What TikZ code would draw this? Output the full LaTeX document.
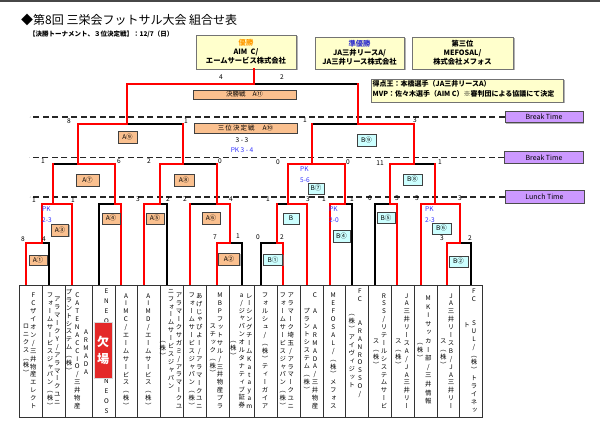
\documentclass[tikz,border=0pt]{standalone}
\usepackage{fontspec}
\setmainfont{Noto Sans CJK JP}
\newfontfamily\vfont[RawFeature=+vert]{Noto Sans CJK JP}
\usetikzlibrary{shadows}
\definecolor{rd}{RGB}{255,0,0}
\definecolor{pkb}{RGB}{51,51,255}
\definecolor{aor}{RGB}{250,192,143}
\definecolor{bcy}{RGB}{204,255,255}
\definecolor{ylw}{RGB}{255,255,204}
\definecolor{brk}{RGB}{204,153,255}
\definecolor{gold}{RGB}{255,153,0}
\definecolor{runb}{RGB}{51,51,204}
\definecolor{stampred}{RGB}{228,40,40}
\ExplSyntaxOn
\NewDocumentCommand\vcol{O{7.9pt}m}{
  \vbox{\baselineskip=#1\lineskiplimit=-\maxdimen\lineskip=0pt
    \tl_map_inline:nn {#2}{\hbox_to_wd:nn{8pt}{\hss##1\hss}}}}
\ExplSyntaxOff
\tikzset{
  rl/.style={draw=rd, line width=1.9pt, line cap=rect},
  kl/.style={draw=black, line width=1.1pt, line cap=rect},
  dl/.style={draw=black!85, line width=1.5pt, dash pattern=on 6pt off 3.5pt},
  cell/.style={draw=black!80, line width=0.8pt},
  abox/.style={draw=black!75, line width=0.7pt, fill=aor, inner sep=0pt,
    font=\fontsize{6.5}{7}\selectfont,
    drop shadow={shadow xshift=1pt,shadow yshift=-1pt,fill=gray,opacity=0.6}},
  bbox/.style={abox, fill=bcy},
  ybox/.style={draw=black!55, line width=0.8pt, fill=ylw, inner sep=0pt, align=center,
    font=\bfseries\fontsize{7.3}{9}\selectfont,
    drop shadow={shadow xshift=1.5pt,shadow yshift=-1.5pt,fill=gray,opacity=0.6}},
  brkbox/.style={draw=black!70, line width=0.8pt, fill=brk, inner sep=0pt,
    font=\fontsize{7}{8}\selectfont,
    drop shadow={shadow xshift=1.2pt,shadow yshift=-1.2pt,fill=gray,opacity=0.6}},
  sc/.style={inner sep=0pt, font=\fontsize{6.6}{7}\selectfont},
  pk/.style={inner sep=0pt, text=pkb, anchor=west, font=\fontsize{6.6}{7}\selectfont},
  vt/.style={inner sep=0pt, font=\vfont\fontsize{6.4}{7.9}\selectfont},
}
\begin{document}
\begin{tikzpicture}[x=1pt,y=-1pt]
\useasboundingbox (0,0) rectangle (600,435);
\fill[black!72] (0,0) rectangle (600,1.8);

% title
\node[anchor=west, inner sep=0pt, font=\fontsize{12}{14}\selectfont] (title) at (21,20) {◆第8回 三栄会フットサル大会 組合せ表};
\node[anchor=west, inner sep=0pt, font=\bfseries\fontsize{6.5}{7}\selectfont] (sub) at (29,34.5) {【決勝トーナメント、３位決定戦】：12/7（日）};

% result boxes
\node[ybox, minimum width=100pt, minimum height=34pt] (champ) at (246,52) {\textcolor{gold}{優勝}\\AIM\ \ C/\\エームサービス株式会社};
\node[ybox, minimum width=89pt, minimum height=32pt] (runner) at (359.5,53) {\textcolor{runb}{準優勝}\\JA三井リースA/\\JA三井リース株式会社};
\node[ybox, minimum width=101pt, minimum height=32pt] (third) at (462.5,53) {第三位\\MEFOSAL/\\株式会社メフォス};
\node[ybox, minimum width=192pt, minimum height=23pt] (mvpbox) at (467,90.5) {};
\node[anchor=west, inner sep=0pt, align=left, font=\bfseries\fontsize{7}{10}\selectfont] (mvp) at (372.5,89) {得点王：本橋選手（JA三井リースA）\\MVP：佐々木選手（AIM C）※審判団による協議にて決定};

% break time
\node[brkbox, minimum width=78pt, minimum height=11.5pt] (brk1) at (544,117) {Break Time};
\node[brkbox, minimum width=78.5pt, minimum height=11.5pt] (brk2) at (544,157.5) {Break Time};
\node[brkbox, minimum width=79pt, minimum height=12.5pt] (lunch) at (544.5,197) {Lunch Time};
\draw[dl] (brk1.west) -- ++(-475,0);
\draw[dl] (brk2.west) -- ++(-475,0);
\draw[dl] (lunch.west) -- ++(-475,0);

% coordinates
\coordinate (t1) at (26,285);  \coordinate (t2) at (49,285);
\coordinate (t3) at (72,285);  \coordinate (t4) at (99,285);
\coordinate (t5) at (121,285); \coordinate (t6) at (144,285);
\coordinate (t7) at (167,285); \coordinate (t8) at (190,285);
\coordinate (t9) at (217,285); \coordinate (t10) at (242,285);
\coordinate (t11) at (261,285); \coordinate (t12) at (283,285);
\coordinate (t13) at (307,285); \coordinate (t14) at (330,285);
\coordinate (t15) at (352,285); \coordinate (t16) at (375,285);
\coordinate (t17) at (397,285); \coordinate (t18) at (421,285);
\coordinate (t19) at (447,285); \coordinate (t20) at (471,285);
\coordinate (a1) at (42,243);  \coordinate (a2) at (230,243);
\coordinate (a3) at (53,204);  \coordinate (a4) at (115,204);
\coordinate (a5) at (160,204); \coordinate (a6) at (217,204);
\coordinate (a7) at (78,164);  \coordinate (a8) at (183,164);
\coordinate (a9) at (127,124);
\coordinate (b1) at (277,243); \coordinate (b2) at (460,243);
\coordinate (b3) at (288,204); \coordinate (b4) at (345,204);
\coordinate (b5) at (390,204); \coordinate (b6) at (435,204);
\coordinate (b7) at (312,164); \coordinate (b8) at (414,164);
\coordinate (b9) at (358,124);
\coordinate (fin) at (254,84);

% black legs
\draw[kl] (t2) |- (a1);
\draw[kl] (t10) |- (a2);
\draw[kl] (t4) |- (a4);
\draw[kl] (t7) |- (a5);
\draw[kl] (t8 |- a6) -- (a6);
\draw[kl] (a3 |- a7) -- (a7);
\draw[kl] (a6 |- a8) -- (a8);
\draw[kl] (a8 |- a9) -- (a9);
\draw[kl] (t11) |- (b1);
\draw[kl] (t20) |- (b2);
\draw[kl] (b1 |- b3) -- (b3);
\draw[kl] (t15) |- (b4);
\draw[kl] (t16) |- (b5);
\draw[kl] (b6 |- b8) -- (b8);
\draw[kl] (b7 |- b9) -- (b9);
\draw[kl] (b9 |- fin) -- (fin);

% red legs
\draw[rl] (t1) |- (a1);
\draw[rl] (t9) |- (a2);
\draw[rl] (a1) |- (a3);
\draw[rl] (t3) |- (a3);
\draw[rl] (t5) |- (a4);
\draw[rl] (t6) |- (a5);
\draw[rl] (t8) -- (t8 |- a6);
\draw[rl] (a2) |- (a6);
\draw[rl] (a3) -- (a3 |- a7);
\draw[rl] (a4) |- (a7);
\draw[rl] (a5) |- (a8);
\draw[rl] (a6) -- (a6 |- a8);
\draw[rl] (a7) |- (a9);
\draw[rl] (a8) -- (a8 |- a9);
\draw[rl] (a9) |- (fin);
\draw[rl] (t12) |- (b1);
\draw[rl] (t19) |- (b2);
\draw[rl] (b1) -- (b1 |- b3);
\draw[rl] (t13) |- (b3);
\draw[rl] (t14) |- (b4);
\draw[rl] (t17) |- (b5);
\draw[rl] (t18) |- (b6);
\draw[rl] (b2) |- (b6);
\draw[rl] (b3) |- (b7);
\draw[rl] (b4) |- (b7);
\draw[rl] (b5) |- (b8);
\draw[rl] (b6) -- (b6 |- b8);
\draw[rl] (b7) -- (b7 |- b9);
\draw[rl] (b8) |- (b9);
\draw[rl] (b9) -- (b9 |- fin);
\draw[rl] (fin) -- (fin |- champ.south);

% final and third place labels
\node[abox, minimum width=103pt, minimum height=9pt] (finlab) at (244.5,94.5) {決勝戦\hspace{7pt}A⑪};
\node[abox, minimum width=103pt, minimum height=10pt] (thirdlab) at (245.5,128) {三\,位\,決\,定\,戦\hspace{8pt}A⑩};
\node[sc] (th1) at (242,140) {3 - 3};
\node[sc, text=pkb] (th2) at (242,150) {PK 3 - 4};

% match boxes
\node[abox, minimum width=18pt, minimum height=10pt] (A1) at (38,260) {A①};
\node[abox, minimum width=21pt, minimum height=12pt] (A2) at (229,259.5) {A②};
\node[abox, minimum width=17pt, minimum height=12pt] (A3) at (60,230) {A③};
\node[abox, minimum width=18pt, minimum height=11pt] (A4) at (111,218.5) {A④};
\node[abox, minimum width=18pt, minimum height=11pt] (A5) at (155,218.5) {A⑤};
\node[abox, minimum width=18pt, minimum height=12pt] (A6) at (211,218) {A⑥};
\node[abox, minimum width=23pt, minimum height=12pt] (A7) at (87.5,180) {A⑦};
\node[abox, minimum width=20pt, minimum height=12pt] (A8) at (184,180) {A⑧};
\node[abox, minimum width=19pt, minimum height=12pt] (A9) at (127.5,137) {A⑨};
\node[bbox, minimum width=19pt, minimum height=11pt] (B1) at (273,260) {B①};
\node[bbox, minimum width=19pt, minimum height=11pt] (B2) at (458.5,261.5) {B②};
\node[bbox, minimum width=16pt, minimum height=11pt] (B3) at (291,218.5) {B};
\node[bbox, minimum width=17pt, minimum height=12pt] (B4) at (341.5,236) {B④};
\node[bbox, minimum width=18pt, minimum height=10.5pt] (B5) at (386,218) {B⑤};
\node[bbox, minimum width=19pt, minimum height=11pt] (B6) at (441.5,228.5) {B⑥};
\node[bbox, minimum width=16pt, minimum height=11pt] (B7) at (316,188.5) {B⑦};
\node[bbox, minimum width=19pt, minimum height=11pt] (B8) at (412.5,179.5) {B⑧};
\node[bbox, minimum width=19pt, minimum height=12pt] (B9) at (366.5,140) {B⑨};

% scores
\node[sc] (s1) at (221,77) {4};   \node[sc] (s2) at (282,77) {2};
\node[sc] (s3) at (69,121) {8};   \node[sc] (s4) at (186,121) {1};
\node[sc] (s5) at (305,120) {1};  \node[sc] (s6) at (415,120) {3};
\node[sc] (s7) at (43,161) {1};   \node[sc] (s8) at (119,161) {6};
\node[sc] (s9) at (149,161) {2};  \node[sc] (s10) at (220,161) {0};
\node[sc] (s11) at (278,162) {0}; \node[sc] (s12) at (348,162) {0};
\node[sc] (s13) at (380,163) {11}; \node[sc] (s14) at (440,162) {1};
\node[sc] (s15) at (34,200) {1};  \node[sc] (s16) at (73,200) {1};
\node[sc] (s17) at (138,199) {3}; \node[sc] (s18) at (168,199) {2};
\node[sc] (s19) at (185,199) {2}; \node[sc] (s20) at (231,199) {4};
\node[sc] (s21) at (268,199) {1}; \node[sc] (s22) at (308,199) {3};
\node[sc] (s23) at (324,199) {1}; \node[sc] (s24) at (352,199) {1};
\node[sc] (s25) at (370,198) {0}; \node[sc] (s26) at (397,198) {5};
\node[sc] (s27) at (417,198) {3}; \node[sc] (s28) at (460,198) {3};
\node[sc] (s29) at (23,239) {8};  \node[sc] (s30) at (44,239) {4};
\node[sc] (s31) at (215,237) {7}; \node[sc] (s32) at (238,236) {1};
\node[sc] (s33) at (258,237) {0}; \node[sc] (s34) at (282,237) {2};
\node[sc] (s35) at (442,238) {3}; \node[sc] (s36) at (470,238) {2};

% PK labels
\node[pk] (pk1) at (42,209) {PK};  \node[pk] (pk1b) at (42,220) {2-3};
\node[pk] (pk2) at (329,209) {PK}; \node[pk] (pk2b) at (329,220) {2-0};
\node[pk] (pk3) at (425,209) {PK}; \node[pk] (pk3b) at (425,220) {2-3};
\node[pk] (pk4) at (300,169) {PK}; \node[pk] (pk4b) at (300,180) {5-6};

% team cells
\draw[cell] (19,285) rectangle (482,417);
\foreach \x in {42,65,92,115,137,160,183,206,229,254,277,300,323,345,368,391,414,437,459}
  \draw[cell] (\x,285) -- (\x,417);

\node[vt] (c1a) at (33.3,351) {\vcol{FCザイオン/三井物産エレクト}};
\node[vt] (c1b) at (26,350) {\vcol{ロニクス（株）}};
\node[vt] (c2a) at (57.3,351) {\vcol{アラマークY/アラマークユニ}};
\node[vt] (c2b) at (50,351) {\vcol{フォームサービスジャパン（株）}};
\node[vt] (c3a) at (77.3,351) {\vcol{CATENACCIO/三井物産}};
\node[vt,anchor=north] (c3b) at (69,289) {\vcol{プラントシステム（株）}};
\node[vt] (c3c) at (86,352) {\vcol{ARMADA}};
\node[vt,anchor=north] (c4a) at (106.5,288.5) {\vcol[10pt]{ENEO}};
\node[vt,anchor=south] (c4b) at (106.5,414) {\vcol[10pt]{NEOS}};
\node[vt] (c5a) at (126,351) {\vcol{AIMC/エームサービス（株）}};
\node[vt] (c6a) at (148.3,351) {\vcol{AIMD/エームサービス（株）}};
\node[vt] (c7a) at (179,351) {\vcol{アラマークサガミ/アラマークユ}};
\node[vt,anchor=north] (c7b) at (171,289) {\vcol{ニフォームサービスジャパン}};
\node[vt] (c7c) at (162.7,350) {\vcol{（株）}};
\node[vt] (c8a) at (199.3,351) {\vcol{あげじゃぴよー/アラマークユニ}};
\node[vt] (c8b) at (191.7,351) {\vcol{フォームサービスジャパン（株）}};
\node[vt] (c9a) at (220,351) {\vcol{MBPフットサル/三井物産プラ}};
\node[vt] (c9b) at (212.7,350) {\vcol{スチック（株）}};
\node[vt] (c10a) at (249.3,351) {\vcol{レーシングチームKatayam}};
\node[vt] (c10b) at (241.7,351) {\vcol{a/ジャパンオルタナティブ証券}};
\node[vt] (c10c) at (233.3,350) {\vcol{（株）}};
\node[vt] (c11a) at (265,351) {\vcol{フォルシュ/（株）ティーガイア}};
\node[vt] (c12a) at (290.7,351) {\vcol{アラマーク埼玉/アラマークユニ}};
\node[vt] (c12b) at (282.7,351) {\vcol{フォームサービスジャパン（株）}};
\node[vt] (c13a) at (315,351) {\vcol{C~A~ARMADA/三井物産}};
\node[vt] (c13b) at (306.7,350) {\vcol{プラントシステム（株）}};
\node[vt] (c14a) at (333.3,351) {\vcol{MEFOSAL/（株）メフォス}};
\node[vt,anchor=north] (c15a) at (360,289) {\vcol{FC~~ARANROSSO/}};
\node[vt] (c15b) at (351.7,351) {\vcol{（株）アイヴィジット}};
\node[vt] (c16a) at (384,351) {\vcol{RSS/リテールシステムサービ}};
\node[vt] (c16b) at (376,353) {\vcol{ス（株）}};
\node[vt] (c17a) at (406.7,351) {\vcol{JA三井リースA/JA三井リー}};
\node[vt] (c17b) at (398.3,353) {\vcol{ス（株）}};
\node[vt] (c18a) at (428.3,350) {\vcol[8.6pt]{MKIサッカー部/三井情報}};
\node[vt] (c18b) at (420,352) {\vcol{（株）}};
\node[vt] (c19a) at (451,351) {\vcol{JA三井リースB/JA三井リー}};
\node[vt] (c19b) at (443.3,353) {\vcol{ス（株）}};
\node[vt,anchor=north] (c20a) at (474,289) {\vcol{FC~~SUL/（株）トライネッ}};
\node[vt] (c20b) at (466.7,325) {\vcol{ト}};

% absent stamp
\node[draw=gray!30, fill=stampred, minimum width=18pt, minimum height=56pt, inner sep=0pt,
  text=white, align=center, font=\bfseries\fontsize{12}{17}\selectfont] (stamp) at (103,350.5) {欠\\場};
\end{tikzpicture}
\end{document}
